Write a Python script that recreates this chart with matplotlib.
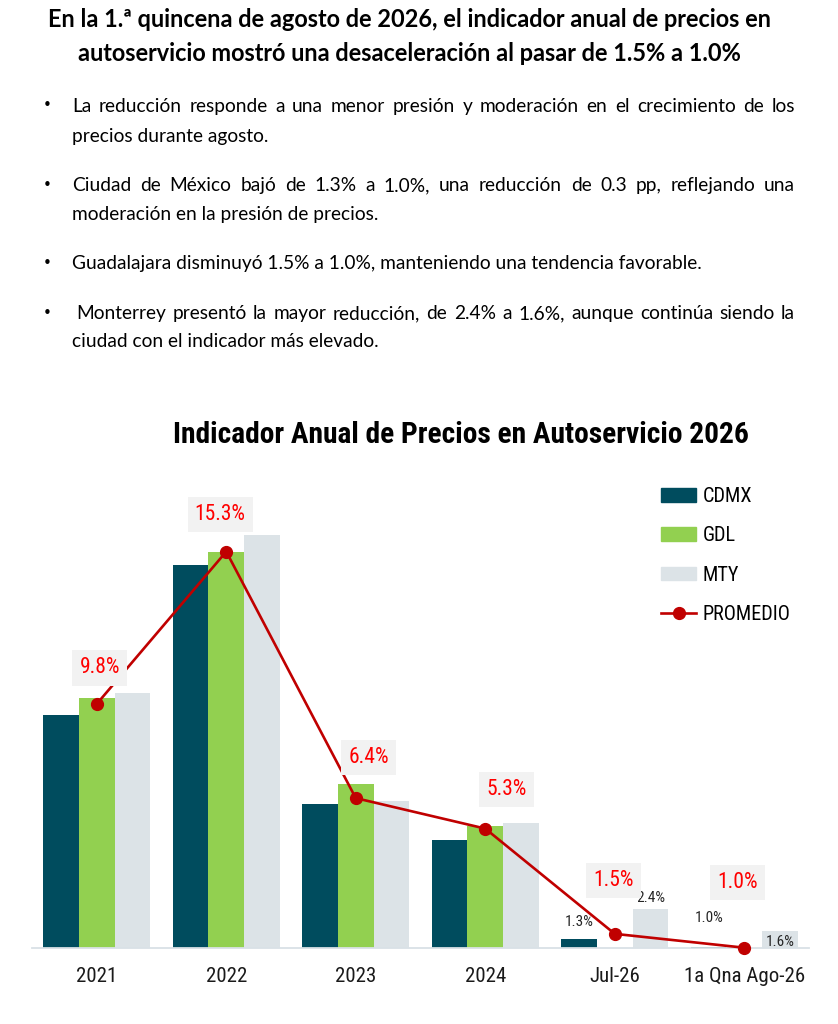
import matplotlib
matplotlib.use("Agg")
import matplotlib.pyplot as plt
from matplotlib import font_manager
from matplotlib.patches import Patch
from matplotlib.lines import Line2D
import numpy as np

# ---- data ----
categories = ["2021", "2022", "2023", "2024", "Jul-26", "1a Qna Ago-26"]
cdmx = [9.4, 14.8, 6.2, 4.9, 1.3, 1.04]
gdl = [10.0, 15.3, 6.9, 5.4, 0.8, 0.36]
mty = [10.2, 15.9, 6.3, 5.5, 2.4, 1.6]
promedio = [9.8, 15.3, 6.4, 5.3, 1.5, 1.0]

titulo = ["En la 1.ª quincena de agosto de 2026, el indicador anual de precios en",
          "autoservicio mostró una desaceleración al pasar de 1.5% a 1.0%"]
bullets = [
    ["La reducción responde a una menor presión y moderación en el crecimiento de los",
     "precios durante agosto."],
    ["Ciudad de México bajó de 1.3% a 1.0%, una reducción de 0.3 pp, reflejando una",
     "moderación en la presión de precios."],
    ["Guadalajara disminuyó 1.5% a 1.0%, manteniendo una tendencia favorable."],
    ["Monterrey presentó la mayor reducción, de 2.4% a 1.6%, aunque continúa siendo la",
     "ciudad con el indicador más elevado."],
]
chart_title = "Indicador Anual de Precios en Autoservicio 2026"

# ---- style ----
available = {f.name for f in font_manager.fontManager.ttflist}
NARROW = next((f for f in ["Roboto Condensed", "Liberation Sans Narrow", "Open Sans Condensed"]
               if f in available), "Lato")
TEXT = "Lato"
plt.rcParams["font.family"] = [NARROW, "DejaVu Sans"]

C_CDMX = "#004c5e"
C_GDL = "#92d050"
C_MTY = "#dce3e7"
C_PROM = "#c00000"

W, H = 838, 1024
fig = plt.figure(figsize=(W / 100, H / 100), dpi=100)
renderer = fig.canvas.get_renderer()


def fx(px):
    return px / W


def fy(py):
    return 1 - py / H


def fit_size(text, target_px, family, weight="normal"):
    t = fig.text(0, 0, text, fontsize=10, family=family, fontweight=weight)
    w = t.get_window_extent(renderer).width
    t.remove()
    return 10 * target_px / w


# header
TS = fit_size(titulo[0], 728, TEXT, "bold")
fig.text(fx(409), fy(27), titulo[0], ha="center", va="baseline",
         fontsize=TS, fontweight="bold", family=TEXT)
fig.text(fx(409), fy(61), titulo[1], ha="center", va="baseline",
         fontsize=TS, fontweight="bold", family=TEXT)

# bullet text, justified like the original
X0, X1 = 72, 795
BODY = fit_size(bullets[2][0], 630, TEXT)
baselines = [[112, 142], [191, 220], [269], [319, 347]]
indent = [0, 0, 0, 4]
for par, ys, ind in zip(bullets, baselines, indent):
    fig.text(fx(47), fy(ys[0] - 6), "•", ha="center", va="center", fontsize=BODY * 0.8,
             family="DejaVu Sans")
    for k, (line, y) in enumerate(zip(par, ys)):
        if k == len(par) - 1:
            fig.text(fx(X0), fy(y), line, ha="left", va="baseline", fontsize=BODY, family=TEXT)
            continue
        words = line.split(" ")
        objs = [fig.text(0, fy(y), w, ha="left", va="baseline", fontsize=BODY, family=TEXT)
                for w in words]
        widths = [o.get_window_extent(renderer).width for o in objs]
        start = X0 + (ind if k == 0 else 0)
        gap = (X1 - start - sum(widths)) / (len(words) - 1)
        x = start
        for o, w in zip(objs, widths):
            o.set_x(fx(x))
            x += w + gap

CT = fit_size(chart_title, 578, NARROW, "bold")
fig.text(fx(460.5), fy(443), chart_title, ha="center", va="baseline",
         fontsize=CT, fontweight="bold", color="black")

# ---- chart ----
ax = fig.add_axes([fx(32), 1 - 947.7 / H, 777 / W, (947.7 - 504.5) / H])
x = np.arange(len(categories))
bw = 0.275
b1 = ax.bar(x - bw, cdmx, bw, color=C_CDMX, label="CDMX")
b2 = ax.bar(x, gdl, bw, color=C_GDL, label="GDL")
b3 = ax.bar(x + bw, mty, bw, color=C_MTY, label="MTY")
ax.plot(x, promedio, color=C_PROM, lw=1.9, marker="o", ms=8.5, clip_on=False, zorder=5)

ax.set_xlim(-0.5, len(categories) - 0.5)
ax.set_ylim(1.0, 17)
ax.set_yticks([])
for s in ["top", "left", "right"]:
    ax.spines[s].set_visible(False)
ax.spines["bottom"].set_color("#d9e1e6")
ax.spines["bottom"].set_linewidth(1.3)
ax.set_xticks(x)
ax.set_xticklabels(categories, fontsize=15, color="#1a1a1a")
ax.tick_params(axis="x", length=0, pad=14)

# average labels in grey boxes
avg_offsets = [(3, 36), (-6, 37), (13, 41), (21, 39), (-1, 53), (-7, 65)]
for xi, v, off in zip(x, promedio, avg_offsets):
    ax.annotate(f"{v:.1f}%", (xi, v), xytext=off, textcoords="offset pixels",
                ha="center", va="center", fontsize=15.5, color="#ff0000",
                bbox=dict(boxstyle="square,pad=0.33", fc="#f2f2f2", ec="none"),
                annotation_clip=False, zorder=6)

# small labels for the latest periods
small = [(b1[4], cdmx[4], 17), (b3[4], mty[4], 11), (b1[5], 1.0, 29), (b3[5], mty[5], -11)]
for bar, v, dy in small:
    ax.annotate(f"{v:.1f}%", (bar.get_x() + bar.get_width() / 2, bar.get_height()),
                xytext=(0, dy), textcoords="offset pixels", ha="center", va="center",
                fontsize=11, color="#262626")

handles = [Patch(color=C_CDMX), Patch(color=C_GDL), Patch(color=C_MTY),
           Line2D([], [], color=C_PROM, lw=1.9, marker="o", ms=8.5)]
fig.legend(handles, ["CDMX", "GDL", "MTY", "PROMEDIO"], loc="upper left",
           bbox_to_anchor=(fx(661), fy(487)), frameon=False, fontsize=14.6,
           handlelength=1.75, handleheight=0.65, handletextpad=0.3,
           labelspacing=1.0, borderpad=0, borderaxespad=0)

fig.savefig("out.png", dpi=100)
